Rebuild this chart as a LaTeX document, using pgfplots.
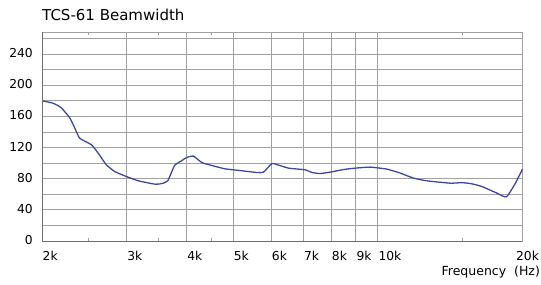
\documentclass[border=0pt]{standalone}
\usepackage{pgfplots}
\pgfplotsset{compat=1.18}
\usepackage{fontspec}
\setmainfont{DejaVu Sans}
\definecolor{curve}{RGB}{62,72,160}
\definecolor{gridc}{RGB}{160,160,160}
\definecolor{axisc}{RGB}{110,110,110}
\begin{document}
\begin{tikzpicture}
\useasboundingbox (-42pt,-43pt) rectangle (498.9pt,241pt);
\begin{axis}[
  at={(0,0)}, anchor=south west,
  scale only axis, width=480.3pt, height=208.7pt,
  xmode=log, xmin=2000, xmax=20000,
  ymin=0, ymax=268,
  xtick={2000,3000,4000,5000,6000,7000,8000,9000,10000,20000},
  xticklabels={2k,3k,4k,5k,6k,7k,8k,9k,10k,\hspace*{-7pt}20k},
  minor xtick={2500,3500,4500,15000},
  ytick={0,40,...,240},
  minor ytick={20,60,...,260},
  xmajorgrids, ymajorgrids, yminorgrids,
  major grid style={gridc, line width=0.9pt},
  minor grid style={gridc, line width=0.9pt},
  major x tick style={draw=none},
  major y tick style={draw=none},
  minor y tick style={draw=none},
  minor x tick style={gridc, line width=0.8pt},
  minor tick length=3pt,
  tick align=inside,
  axis line style={gridc, line width=0.9pt},
  tick label style={font=\fontsize{12.3}{14}\selectfont, text=black},
  xticklabel style={anchor=base west, inner sep=0pt, yshift=-19pt, xshift=0.5pt},
  yticklabel style={anchor=east, inner sep=0pt, xshift=-9pt, yshift=1pt},
  /pgf/number format/assume math mode=true,
  clip=false,
]
\addplot[curve, line width=1.3pt, smooth, tension=0.3] table {
x y
2000 180
2108 177
2194 171
2285 158
2340 145
2396 132
2534 123.6
2616 113
2722 97.9
2834 89.2
2998 82.8
3175 77.3
3440 73
3552 73.8
3654 77.3
3774 97
3878 102
4002 107.3
4133 109
4302 100.8
4514 97
4810 92.7
5170 90.5
5602 88
5782 88.5
6020 99.5
6214 97.5
6520 93.6
7064 91.4
7294 88
7588 86.7
7962 88.5
8488 91.8
8974 93.6
9650 94.9
10448 92.3
11140 87.2
11874 80.7
12662 77.3
14158 74.3
14972 75
15712 73.4
16490 69.9
17718 61.4
18522 56.7
19340 74.3
20000 92.3
};
\end{axis}
\draw[axisc, line width=1pt] (0,208.7pt) -- (0,0) -- (480.3pt,0);
\node[anchor=base west, inner sep=0pt, font=\fontsize{15}{18}\selectfont] at (0,221pt) {TCS-61 Beamwidth};
\node[anchor=base east, inner sep=0pt, font=\fontsize{12.5}{15}\selectfont] at (498pt,-34pt) {Frequency\ \ (Hz)};
\end{tikzpicture}
\end{document}
